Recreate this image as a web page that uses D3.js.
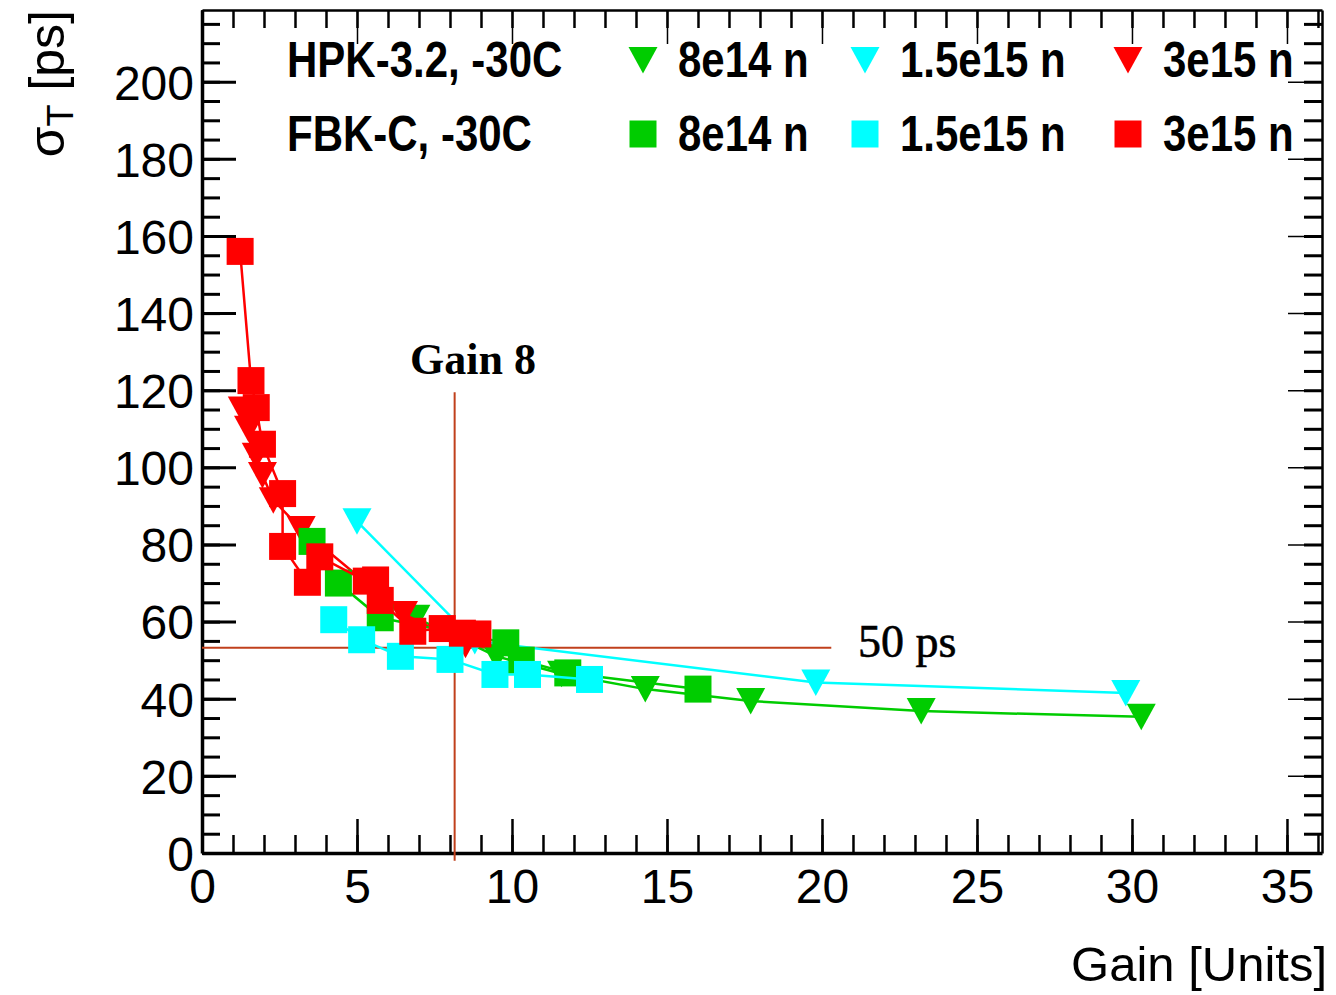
<!DOCTYPE html>
<html>
<head>
<meta charset="utf-8">
<script src="https://cdn.jsdelivr.net/npm/d3@7"></script>
<style>
    html, body {
        margin: 0;
        padding: 0;
        background: #fff;
    }
    svg {
        display: block;
        font-family: "Liberation Sans", Arial, sans-serif;
    }
    .axis path.domain { stroke: #000; }
    .axis line { stroke: #000; }
    .axis text { fill: #000; font-size: 48px; }
</style>
</head>
<body>
<div id="chart"></div>
<script>
    // sigma_T [ps] versus gain: [gain, sigma]
    // HPK-3.2, -30C (triangles)
    var hpk8e14 = [[6.9, 61], [9.5, 51], [11.6, 46.5], [14.3, 42.5], [17.7, 39.4], [23.2, 36.8], [30.3, 35.3]];
    var hpk15e15 = [[5.0, 86], [8.8, 55], [19.8, 44.2], [29.8, 41.5]];
    var hpk3e15 = [[1.3, 115], [1.5, 110], [1.75, 103], [1.95, 98], [2.3, 91.5], [3.2, 84], [6.5, 62], [8.5, 54]];
    // FBK-C, -30C (squares)
    var fbk8e14 = [[3.55, 80.8], [4.4, 70], [5.75, 61], [9.8, 54.5], [10.3, 50], [11.8, 46.7], [16.0, 42.5]];
    var fbk15e15 = [[4.25, 60.5], [5.15, 55.3], [6.4, 51], [8.0, 50.2], [9.45, 46.3], [10.5, 46.3], [12.5, 45]];
    var fbk3e15 = [[1.23, 156], [1.58, 122.5], [1.75, 115.5], [1.95, 106], [2.6, 93.2], [2.6, 79.5], [3.4, 70.2],
        [3.8, 76.8], [5.3, 70.5], [5.6, 70.8], [5.75, 65.5], [6.8, 57.5], [7.75, 58.2], [8.4, 57], [8.9, 56.8]];

    var fluences = ["8e14 n", "1.5e15 n", "3e15 n"];
    var colors = ["#00cc00", "#00ffff", "#ff0000"];
    var groups = ["HPK-3.2, -30C", "FBK-C, -30C"];

    var xMajor = [0, 5, 10, 15, 20, 25, 30, 35];
    var yMajor = [0, 20, 40, 60, 80, 100, 120, 140, 160, 180, 200];

    // reference lines: gain 8 and 50 ps
    var gainLine = {x: 8.15, y0: -2, y1: 119.5};
    var psLine = {y: 53.2, x0: 0, x1: 20.3};

    var series = [
        {data: hpk8e14, color: 0, shape: "tri"},
        {data: hpk15e15, color: 1, shape: "tri"},
        {data: hpk3e15, color: 2, shape: "tri"},
        {data: fbk8e14, color: 0, shape: "sq"},
        {data: fbk15e15, color: 1, shape: "sq"},
        {data: fbk3e15, color: 2, shape: "sq"}
    ];

    var width = 1336, height = 995;
    var frame = {left: 202, right: 1322, top: 10, bottom: 853};

    var x = d3.scaleLinear().domain([0, 36.13]).range([frame.left, frame.right]);
    var y = d3.scaleLinear().domain([0, 218.6]).range([frame.bottom, frame.top]);

    var svg = d3.select("#chart").append("svg")
        .attr("width", width)
        .attr("height", height);

    var triPath = "M-14.5,-13L14.5,-13L0,13.5Z";
    var sqPath = "M-13.5,-13.5h27v27h-27Z";

    function drawAxis(axis, tr, cls, w) {
        var g = svg.append("g").attr("class", "axis " + cls)
            .attr("transform", tr)
            .call(axis);
        g.selectAll("line").attr("stroke-width", w);
        return g;
    }

    // minor ticks
    drawAxis(d3.axisBottom(x).tickValues(d3.range(0, 36.1, 1)).tickSize(-18).tickFormat(""),
        "translate(0," + frame.bottom + ")", "minor", 2.5).select(".domain").remove();
    drawAxis(d3.axisTop(x).tickValues(d3.range(0, 36.1, 1)).tickSize(-18).tickFormat(""),
        "translate(0," + frame.top + ")", "minor", 2.5).select(".domain").remove();
    drawAxis(d3.axisLeft(y).tickValues(d3.range(0, 218, 5)).tickSize(-18).tickFormat(""),
        "translate(" + frame.left + ",0)", "minor", 3).select(".domain").remove();
    drawAxis(d3.axisRight(y).tickValues(d3.range(0, 218, 5)).tickSize(-18).tickFormat(""),
        "translate(" + frame.right + ",0)", "minor", 3).select(".domain").remove();

    // major ticks and labels
    var gx = drawAxis(d3.axisBottom(x).tickValues(xMajor).tickSize(-34).tickPadding(14).tickSizeOuter(0),
        "translate(0," + frame.bottom + ")", "major", 2.5);
    gx.select(".domain").attr("stroke-width", 3.5);
    gx.selectAll("text").attr("dy", "0.74em");

    var gy = drawAxis(d3.axisLeft(y).tickValues(yMajor).tickSize(-34).tickPadding(8).tickSizeOuter(0),
        "translate(" + frame.left + ",0)", "major", 3);
    gy.select(".domain").attr("stroke-width", 3.5);
    gy.selectAll("text").attr("dy", "0.36em");

    var gt = drawAxis(d3.axisTop(x).tickValues(xMajor).tickSize(-34).tickFormat("").tickSizeOuter(0),
        "translate(0," + frame.top + ")", "major", 1.5);
    gt.selectAll("line").attr("stroke", "#999");
    gt.select(".domain").attr("stroke-width", 2.5);

    var gr = drawAxis(d3.axisRight(y).tickValues(yMajor).tickSize(-34).tickFormat("").tickSizeOuter(0),
        "translate(" + frame.right + ",0)", "major", 1.5);
    gr.selectAll("line").attr("stroke", "#999");
    gr.select(".domain").attr("stroke-width", 2.5);

    // axis titles
    svg.append("text")
        .attr("x", 1327)
        .attr("y", 981)
        .attr("text-anchor", "end")
        .style("font-size", "49px")
        .text("Gain [Units]");

    var yt = svg.append("text")
        .attr("transform", "translate(64,10) rotate(-90)")
        .attr("text-anchor", "end")
        .style("font-size", "50px");
    yt.append("tspan").text("σ");
    yt.append("tspan").attr("dy", 9).style("font-size", "36px").text("T");
    yt.append("tspan").attr("dy", -9).text(" [ps]");

    // reference lines
    var refColor = "#c0401c";
    svg.append("line")
        .attr("x1", x(gainLine.x)).attr("x2", x(gainLine.x))
        .attr("y1", y(gainLine.y0)).attr("y2", y(gainLine.y1))
        .attr("stroke", refColor).attr("stroke-width", 2);
    svg.append("line")
        .attr("x1", x(psLine.x0)).attr("x2", x(psLine.x1))
        .attr("y1", y(psLine.y)).attr("y2", y(psLine.y))
        .attr("stroke", refColor).attr("stroke-width", 2);

    svg.append("text")
        .attr("x", 410).attr("y", 374)
        .style("font-family", "'Liberation Serif', 'Times New Roman', serif")
        .style("font-weight", "bold")
        .style("font-size", "44px")
        .text("Gain 8");
    svg.append("text")
        .attr("x", 858).attr("y", 657)
        .style("font-family", "'Liberation Serif', 'Times New Roman', serif")
        .style("font-size", "46px")
        .style("stroke", "#000")
        .style("stroke-width", 0.6)
        .text("50 ps");

    // data
    var line = d3.line()
        .x(function (d) { return x(d[0]); })
        .y(function (d) { return y(d[1]); });

    series.forEach(function (s) {
        var c = colors[s.color];
        svg.append("path")
            .datum(s.data)
            .attr("d", line)
            .attr("fill", "none")
            .attr("stroke", c)
            .attr("stroke-width", 2.5);
        svg.append("g").selectAll("path")
            .data(s.data)
            .enter().append("path")
            .attr("d", s.shape === "tri" ? triPath : sqPath)
            .attr("transform", function (d) {
                return "translate(" + x(d[0]) + "," + y(d[1]) + ")";
            })
            .attr("fill", c);
    });

    // legend
    var legCols = [643, 865, 1128];
    var legRows = [60, 134];
    groups.forEach(function (gname, r) {
        svg.append("text")
            .attr("transform", "translate(287," + (legRows[r] + 17) + ") scale(1,1.18)")
            .style("font-weight", "bold")
            .style("font-size", "42px")
            .text(gname);
        fluences.forEach(function (f, i) {
            svg.append("path")
                .attr("d", r === 0 ? triPath : sqPath)
                .attr("transform", "translate(" + legCols[i] + "," + legRows[r] + ")")
                .attr("fill", colors[i]);
            svg.append("text")
                .attr("transform", "translate(" + (legCols[i] + 35) + "," + (legRows[r] + 17) + ") scale(1,1.18)")
                .style("font-weight", "bold")
                .style("font-size", "42px")
                .text(f);
        });
    });
</script>
</body>
</html>
